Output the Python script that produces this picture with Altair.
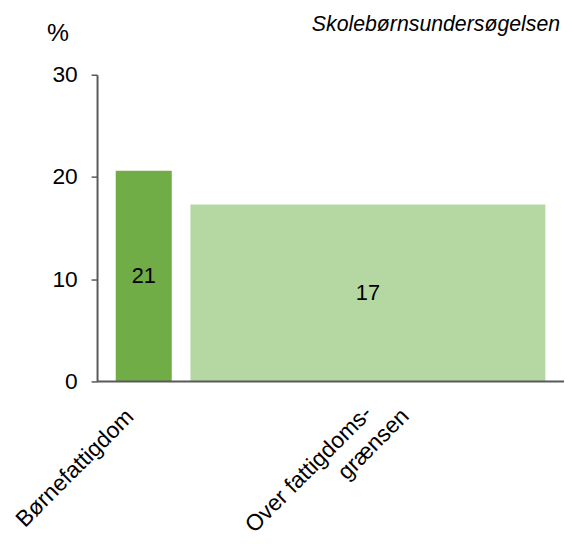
import altair as alt
import pandas as pd

# ---- data ----
categories = ["Børnefattigdom", "Over fattigdomsgrænsen"]
label_lines = [["Børnefattigdom"], ["Over fattigdoms-", "grænsen"]]
values = [20.6, 17.3]
shown = ["21", "17"]
widths = [12, 76]          # relative bar widths
gap = 4                    # relative gap between bars
colors = ["#70AD47", "#B5D8A3"]
y_ticks = [0, 10, 20, 30]
unit = "%"
source = "Skolebørnsundersøgelsen"

# ---- derived tables ----
starts = []
pos = gap
for w in widths:
    starts.append(pos)
    pos += w + gap
total = pos

bars = pd.DataFrame({
    "cat": categories,
    "value": values,
    "label": shown,
    "x0": starts,
    "x1": [s + w for s, w in zip(starts, widths)],
    "color": colors,
})
bars["mid"] = (bars["x0"] + bars["x1"]) / 2
bars["half"] = bars["value"] / 2
bars["zero"] = 0

rows = []
for k, (mid, lines) in enumerate(zip(bars["mid"], label_lines)):
    for i, line in enumerate(lines):
        rows.append({"mid": mid, "line": line, "cat": k, "idx": i, "zero": 0})
labels = pd.DataFrame(rows)

baseline = pd.DataFrame({"a": [0], "b": [total], "zero": [0]})

FONT = "Liberation Sans"
AX = "#595959"

xscale = alt.Scale(domain=[0, total], nice=False, zero=True)
yscale = alt.Scale(domain=[y_ticks[0], y_ticks[-1]], nice=False)

bar_layer = alt.Chart(bars).mark_bar().encode(
    x=alt.X("x0:Q", scale=xscale,
            axis=alt.Axis(labels=False, ticks=False, title=None, grid=False,
                          domain=False)),
    x2="x1:Q",
    y=alt.Y("value:Q", scale=yscale,
            axis=alt.Axis(values=y_ticks, grid=False, tickSize=6, tickColor=AX,
                          tickWidth=1.5, domainColor=AX, domainWidth=2,
                          labelFontSize=23, labelColor="#000000", labelPadding=14,
                          title=unit, titleAngle=0, titleFontSize=25,
                          titleFontWeight="normal", titleColor="#000000",
                          titleAlign="center", titleBaseline="alphabetic",
                          titleX=-40, titleY=-35)),
    y2="zero:Q",
    color=alt.Color("color:N", scale=None),
)

base_rule = alt.Chart(baseline).mark_rule(color=AX, strokeWidth=2).encode(
    x=alt.X("a:Q", scale=xscale),
    x2="b:Q",
    y=alt.Y("zero:Q", scale=yscale),
)

value_text = alt.Chart(bars).mark_text(fontSize=22, font=FONT, color="#000000",
                                       baseline="middle").encode(
    x=alt.X("mid:Q", scale=xscale),
    y=alt.Y("half:Q", scale=yscale),
    text="label:N",
)


def cat_label(cat, idx, dx, dy):
    return alt.Chart(labels).transform_filter(
        f"datum.cat == {cat} && datum.idx == {idx}"
    ).mark_text(
        angle=315, align="right", baseline="top", fontSize=23, font=FONT,
        color="#000000", dx=dx, dy=dy,
    ).encode(
        x=alt.X("mid:Q", scale=xscale),
        y=alt.Y("zero:Q", scale=yscale),
        text="line:N",
    )


lab_a = cat_label(0, 0, -32.5, 2)
lab_b = cat_label(1, 0, -20, 9.6)
lab_c = cat_label(1, 1, 4.5, 38)

chart = alt.layer(bar_layer, base_rule, value_text, lab_a, lab_b, lab_c).properties(
    width=472,
    height=310,
    autosize=alt.AutoSizeParams(type="none"),
    padding={"left": 90, "top": 64.6, "right": 2, "bottom": 158},
    title=alt.TitleParams(source, anchor="end", fontStyle="italic", fontSize=21.5,
                          font=FONT, fontWeight="normal", color="#000000",
                          dx=-5, dy=19),
).configure_view(stroke=None).configure_axis(labelFont=FONT, titleFont=FONT)

chart.save("out.html", embed_options={"renderer": "svg", "actions": False})
